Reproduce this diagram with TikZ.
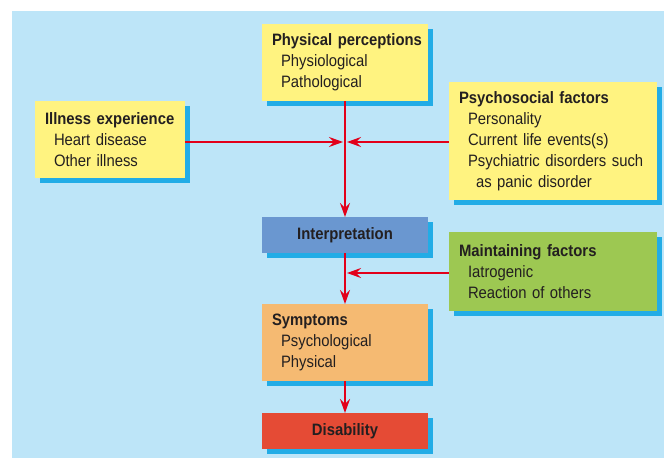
\documentclass[tikz,border=0pt]{standalone}
\usepackage{fontspec}
\setmainfont{Liberation Sans}[FakeStretch=0.9]
\usetikzlibrary{arrows.meta,shadows}

\definecolor{bgblue}{HTML}{BDE5F8}
\definecolor{shadowblue}{HTML}{22ACE6}
\definecolor{noteyellow}{HTML}{FFF380}
\definecolor{interpblue}{HTML}{6A97D0}
\definecolor{maintgreen}{HTML}{9DC852}
\definecolor{symorange}{HTML}{F5BA72}
\definecolor{disred}{HTML}{E54B35}
\definecolor{arrowred}{HTML}{E2001A}
\definecolor{inkdark}{HTML}{231F20}

\begin{document}
\begin{tikzpicture}[x=1pt,y=-1pt,
    box/.style={anchor=north west,inner xsep=10pt,inner ysep=0pt,outer sep=0pt,
      align=left,text=inkdark,font=\fontsize{16.5}{21}\selectfont,
      drop shadow={shadow xshift=5pt,shadow yshift=-5pt,fill=shadowblue,opacity=1}},
    midbox/.style={box,align=center,text width=146pt,minimum height=36pt},
    flow/.style={draw=arrowred,line width=1.8pt,-{Stealth[length=14pt,width=10pt,inset=5pt]}}]
            \useasboundingbox (0,0) rectangle (664,458);
            \fill[bgblue] (12,11) rectangle (664,458);

            \node (illness) at (35,101) [box,fill=noteyellow,text width=130pt,minimum height=77pt]
                {\textbf{Illness experience}\\\hspace*{9pt}Heart disease\\\hspace*{9pt}Other illness};
            \node (physical) at (262,24) [box,fill=noteyellow,text width=146pt,minimum height=77pt]
                {\mbox{\textbf{Physical perceptions}}\\\hspace*{9pt}Physiological\\\hspace*{9pt}Pathological};
            \node (psycho) at (449,82) [box,fill=noteyellow,text width=188pt,minimum height=118pt]
                {\textbf{Psychosocial factors}\\\hspace*{9pt}Personality\\\hspace*{9pt}Current life events(s)\\
                 \hspace*{9pt}\mbox{Psychiatric disorders such}\\\hspace*{17pt}as panic disorder};
            \node (interp) at (262,217) [midbox,fill=interpblue] {\textbf{Interpretation}};
            \node (maint) at (449,232) [box,fill=maintgreen,text width=188pt,minimum height=79pt]
                {\textbf{Maintaining factors}\\\hspace*{9pt}Iatrogenic\\\hspace*{9pt}Reaction of others};
            \node (sympt) at (262,304) [box,fill=symorange,text width=146pt,minimum height=77pt]
                {\textbf{Symptoms}\\\hspace*{9pt}Psychological\\\hspace*{9pt}Physical};
            \node (disab) at (262,413) [midbox,fill=disred] {\textbf{Disability}};

            \coordinate (upperjoin) at (345,142);
            \coordinate (lowerjoin) at (345,273);

            \draw[flow] (physical.south) -- (interp.north);
            \draw[flow] (illness.east |- upperjoin) -- ([xshift=-2pt]upperjoin);
            \draw[flow] (psycho.west |- upperjoin) -- ([xshift=2pt]upperjoin);
            \draw[flow] (interp.south) -- (sympt.north);
            \draw[flow] (maint.west |- lowerjoin) -- ([xshift=2pt]lowerjoin);
            \draw[flow] (sympt.south) -- (disab.north);
        \end{tikzpicture}
\end{document}
